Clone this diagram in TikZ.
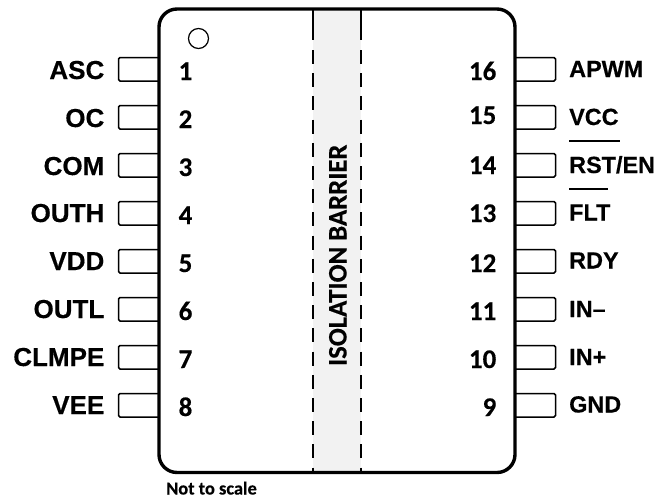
\documentclass[tikz,border=0pt]{standalone}
\usepackage{fontspec}
\setmainfont[BoldFeatures={FakeBold=0.4}]{Liberation Sans}
\newfontfamily\carl[BoldFeatures={FakeBold=0.3}]{Carlito}
\tikzset{x=1pt,y=-1pt,
 pinbox/.style={draw=black,line width=1.5pt,rounded corners=1.5pt},
 leftlab/.style={anchor=base east,inner sep=0pt,font=\fontsize{26}{26}\bfseries\selectfont},
 rightlab/.style={anchor=base west,inner sep=0pt,font=\fontsize{23.4}{26}\bfseries\selectfont},
 numlab/.style={anchor=base,inner sep=0pt,font=\carl\fontsize{27}{28}\bfseries\selectfont},
 barline/.style={draw=black,line width=1.2pt},
 bardash/.style={barline,dash pattern=on 14pt off 9.2pt}}
\begin{document}
\begin{tikzpicture}
\useasboundingbox (0,0) rectangle (655,498);
\fill[white] (0,0) rectangle (655,498);
\fill[black!5] (313,9) rectangle (361,472);
\foreach \i/\yy in {1/57.5,2/105.5,3/153.5,4/201.5,5/249.5,6/297.5,7/345.5,8/393.5}{
 \draw[pinbox] (158,\yy) -| (118.5,\yy+23.5) -- (158,\yy+23.5);
 \draw[pinbox] (516,\yy) -| (555.5,\yy+23.5) -- (516,\yy+23.5);
}
\foreach \xx in {313,361}{
 \draw[barline] (\xx,10) -- (\xx,40);
 \draw[bardash] (\xx,50) -- (\xx,472);
}
\draw[black,line width=3.4pt,rounded corners=18pt] (159,9) rectangle (515,472.5);
\node[draw=black,line width=1.2pt,circle,minimum size=20pt,inner sep=0pt] (dot) at (198.5,38.5) {};
\foreach \t/\b in {ASC/79,OC/127,COM/175,OUTH/222,VDD/270,OUTL/318,CLMPE/366,VEE/414}{
 \node[leftlab] (l\t) at (104.5,\b) {\t};
}
\foreach \t/\b in {1/80,2/128,3/176,4/224,5/272,6/320,7/368,8/416}{
 \node[numlab] (n\t) at (185.5,\b) {\t};
}
\foreach \t/\b in {16/80,15/124,14/174,13/222,12/272,11/320,10/368,9/416}{
 \node[numlab,anchor=base east] (n\t) at (496.5,\b) {\t};
}
\node[rightlab] (APWM) at (569,77) {APWM};
\node[rightlab] (VCC) at (569,125) {VCC};
\node[rightlab] (RST) at (569,173) {RST/EN};
\node[rightlab] (FLT) at (569,220.5) {FLT};
\node[rightlab] (RDY) at (569,268.5) {RDY};
\node[rightlab] (INm) at (569,317) {IN–};
\node[rightlab] (INp) at (569,365) {IN+};
\node[rightlab] (GND) at (569,412.5) {GND};
\draw[line width=1.3pt] (569,141) -- (620,141);
\draw[line width=1.3pt] (569,189) -- (608,189);
\node[anchor=base,rotate=90,inner sep=0pt,font=\carl\fontsize{26.7}{28}\bfseries\selectfont] (iso) at (346.5,255.3) {ISOLATION BARRIER};
\node[anchor=base west,inner sep=0pt,font=\carl\fontsize{18.4}{20}\bfseries\selectfont] (nts) at (166,494.5) {Not to scale};
\end{tikzpicture}
\end{document}
